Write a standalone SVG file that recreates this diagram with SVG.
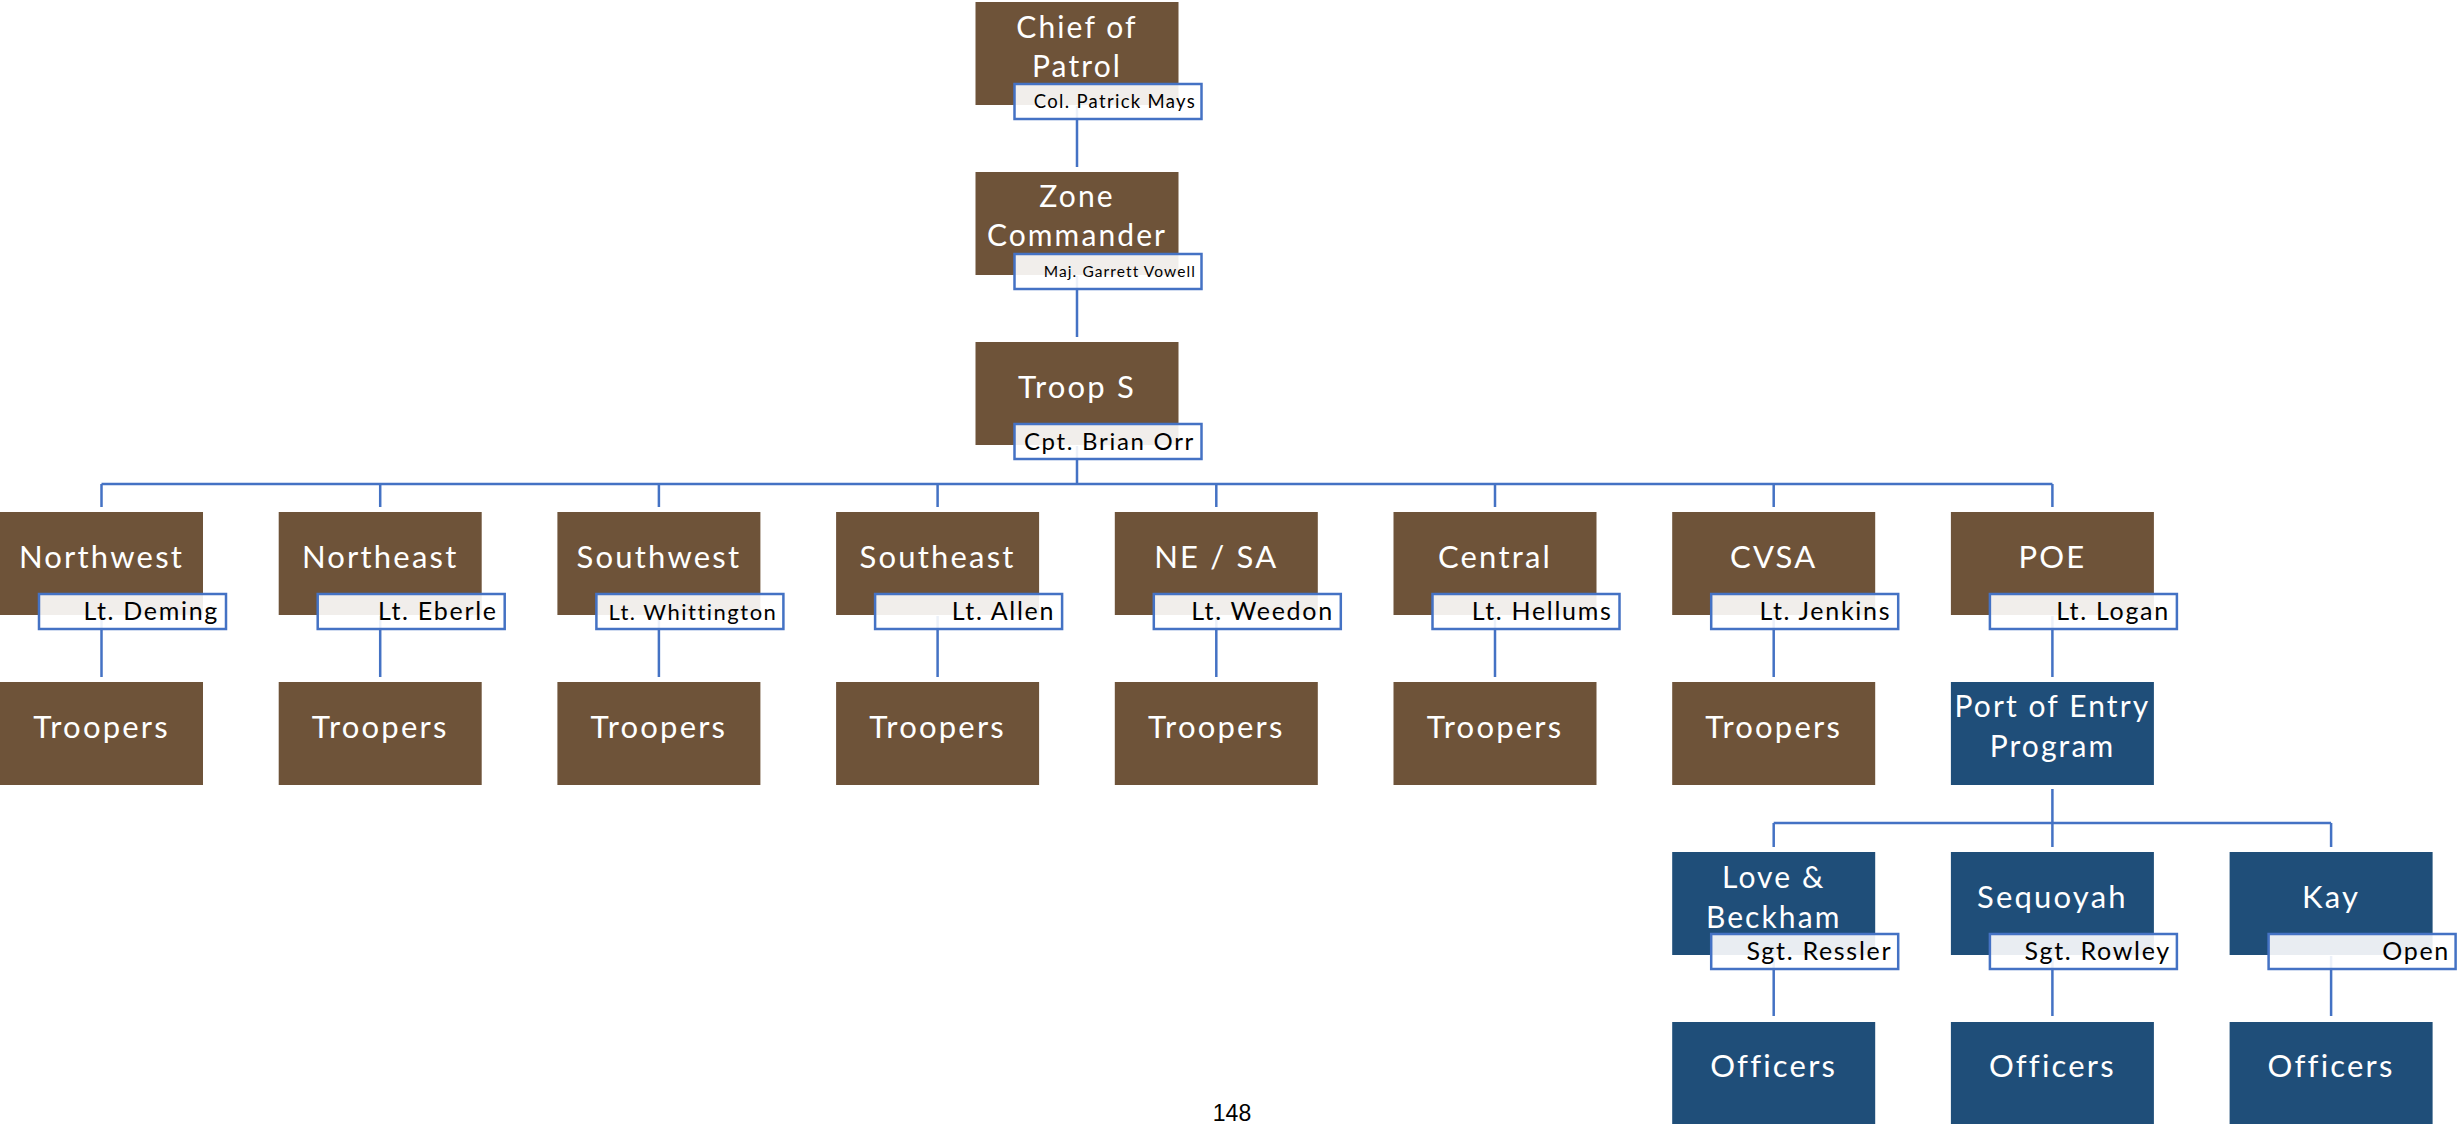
<svg xmlns="http://www.w3.org/2000/svg" width="2458" height="1124" viewBox="0 0 2458 1124">
<style>
.br{fill:#6e5339}
.bl{fill:#1f4e79}
.t{font-family:Lato,"Open Sans",sans-serif;fill:#fff;text-anchor:middle;font-size:31px;letter-spacing:2.2px}
.t2{font-family:Lato,"Open Sans",sans-serif;fill:#fff;text-anchor:middle;font-size:30px;letter-spacing:2.1px}
.lb{fill:#fff;fill-opacity:0.9;stroke:#4472c4;stroke-width:2.5}
.lt{font-family:Lato,"Open Sans",sans-serif;fill:#000;text-anchor:end;font-size:25px;letter-spacing:1.7px}
.cn{fill:none;stroke:#4472c4;stroke-width:2.5}
</style>
<rect width="2458" height="1124" fill="#fff"/>
<g id="connectors" class="cn">
<path d="M1077,106 V167 M1077,276 V337 M1077,446 V484 M101.5,484 H2052.4"/>
<path d="M101.5,484 V507 M380.2,484 V507 M658.9,484 V507 M937.6,484 V507 M1216.3,484 V507 M1495,484 V507 M1773.7,484 V507 M2052.4,484 V507"/>
<path d="M101.5,616 V677 M380.2,616 V677 M658.9,616 V677 M937.6,616 V677 M1216.3,616 V677 M1495,616 V677 M1773.7,616 V677 M2052.4,616 V677"/>
<path d="M2052.4,789 V847 M1773.7,823 H2331.1 M1773.7,823 V847 M2331.1,823 V847"/>
<path d="M1773.7,956 V1016 M2052.4,956 V1016 M2331.1,956 V1016"/>
</g>
<g id="chief">
<rect class="br" x="975.5" y="2" width="203" height="103"/>
<text class="t2" x="1077" y="38">Chief of</text>
<text class="t2" x="1077" y="77">Patrol</text>
<rect class="lb" x="1014.5" y="84" width="187" height="35"/>
<text class="lt" x="1196" y="108" style="font-size:18.5px;letter-spacing:1.3px">Col. Patrick Mays</text>
</g>
<g id="zone">
<rect class="br" x="975.5" y="172" width="203" height="103"/>
<text class="t2" x="1077" y="207">Zone</text>
<text class="t2" x="1077" y="246">Commander</text>
<rect class="lb" x="1014.5" y="254" width="187" height="35"/>
<text class="lt" x="1196" y="277" style="font-size:15.5px;letter-spacing:1.1px">Maj. Garrett Vowell</text>
</g>
<g id="troop-s">
<rect class="br" x="975.5" y="342" width="203" height="103"/>
<text class="t" x="1077" y="398">Troop S</text>
<rect class="lb" x="1014.5" y="424" width="187" height="35"/>
<text class="lt" x="1195" y="450" style="font-size:24px">Cpt. Brian Orr</text>
</g>
<g id="northwest">
<rect class="br" x="0" y="512" width="203" height="103"/>
<text class="t" x="101.5" y="568">Northwest</text>
<rect class="lb" x="39" y="594" width="187" height="35"/>
<text class="lt" x="219" y="620">Lt. Deming</text>
</g>
<g id="northeast">
<rect class="br" x="278.7" y="512" width="203" height="103"/>
<text class="t" x="380.2" y="568">Northeast</text>
<rect class="lb" x="317.7" y="594" width="187" height="35"/>
<text class="lt" x="497.7" y="620">Lt. Eberle</text>
</g>
<g id="southwest">
<rect class="br" x="557.4" y="512" width="203" height="103"/>
<text class="t" x="658.9" y="568">Southwest</text>
<rect class="lb" x="596.4" y="594" width="187" height="35"/>
<text class="lt" x="777.4" y="620" style="font-size:22px;letter-spacing:1.5px">Lt. Whittington</text>
</g>
<g id="southeast">
<rect class="br" x="836.1" y="512" width="203" height="103"/>
<text class="t" x="937.6" y="568">Southeast</text>
<rect class="lb" x="875.1" y="594" width="187" height="35"/>
<text class="lt" x="1055.1" y="620">Lt. Allen</text>
</g>
<g id="ne-sa">
<rect class="br" x="1114.8" y="512" width="203" height="103"/>
<text class="t" x="1216.3" y="568">NE / SA</text>
<rect class="lb" x="1153.8" y="594" width="187" height="35"/>
<text class="lt" x="1333.8" y="620">Lt. Weedon</text>
</g>
<g id="central">
<rect class="br" x="1393.5" y="512" width="203" height="103"/>
<text class="t" x="1495" y="568">Central</text>
<rect class="lb" x="1432.5" y="594" width="187" height="35"/>
<text class="lt" x="1612.5" y="620">Lt. Hellums</text>
</g>
<g id="cvsa">
<rect class="br" x="1672.2" y="512" width="203" height="103"/>
<text class="t" x="1773.7" y="568">CVSA</text>
<rect class="lb" x="1711.2" y="594" width="187" height="35"/>
<text class="lt" x="1891.2" y="620">Lt. Jenkins</text>
</g>
<g id="poe">
<rect class="br" x="1950.9" y="512" width="203" height="103"/>
<text class="t" x="2052.4" y="568">POE</text>
<rect class="lb" x="1989.9" y="594" width="187" height="35"/>
<text class="lt" x="2169.9" y="620">Lt. Logan</text>
</g>
<g id="troopers-nw"><rect class="br" x="0" y="682" width="203" height="103"/><text class="t" x="101.5" y="738">Troopers</text></g>
<g id="troopers-ne"><rect class="br" x="278.7" y="682" width="203" height="103"/><text class="t" x="380.2" y="738">Troopers</text></g>
<g id="troopers-sw"><rect class="br" x="557.4" y="682" width="203" height="103"/><text class="t" x="658.9" y="738">Troopers</text></g>
<g id="troopers-se"><rect class="br" x="836.1" y="682" width="203" height="103"/><text class="t" x="937.6" y="738">Troopers</text></g>
<g id="troopers-nesa"><rect class="br" x="1114.8" y="682" width="203" height="103"/><text class="t" x="1216.3" y="738">Troopers</text></g>
<g id="troopers-central"><rect class="br" x="1393.5" y="682" width="203" height="103"/><text class="t" x="1495" y="738">Troopers</text></g>
<g id="troopers-cvsa"><rect class="br" x="1672.2" y="682" width="203" height="103"/><text class="t" x="1773.7" y="738">Troopers</text></g>
<g id="poe-program">
<rect class="bl" x="1950.9" y="682" width="203" height="103"/>
<text class="t2" x="2052.4" y="717">Port of Entry</text>
<text class="t2" x="2052.4" y="757">Program</text>
</g>
<g id="love-beckham">
<rect class="bl" x="1672.2" y="852" width="203" height="103"/>
<text class="t2" x="1773.7" y="888">Love &amp;</text>
<text class="t2" x="1773.7" y="928">Beckham</text>
<rect class="lb" x="1711.2" y="934" width="187" height="35"/>
<text class="lt" x="1892.2" y="960">Sgt. Ressler</text>
</g>
<g id="sequoyah">
<rect class="bl" x="1950.9" y="852" width="203" height="103"/>
<text class="t" x="2052.4" y="908">Sequoyah</text>
<rect class="lb" x="1989.9" y="934" width="187" height="35"/>
<text class="lt" x="2170.9" y="960">Sgt. Rowley</text>
</g>
<g id="kay">
<rect class="bl" x="2229.6" y="852" width="203" height="103"/>
<text class="t" x="2331.1" y="908">Kay</text>
<rect class="lb" x="2268.6" y="934" width="187" height="35"/>
<text class="lt" x="2450" y="960">Open</text>
</g>
<g id="officers-love"><rect class="bl" x="1672.2" y="1022" width="203" height="103"/><text class="t" x="1773.7" y="1077">Officers</text></g>
<g id="officers-sequoyah"><rect class="bl" x="1950.9" y="1022" width="203" height="103"/><text class="t" x="2052.4" y="1077">Officers</text></g>
<g id="officers-kay"><rect class="bl" x="2229.6" y="1022" width="203" height="103"/><text class="t" x="2331.1" y="1077">Officers</text></g>
<text x="1232" y="1121" font-family="'Liberation Sans',Arial,sans-serif" font-size="23" text-anchor="middle" fill="#000">148</text>
</svg>
